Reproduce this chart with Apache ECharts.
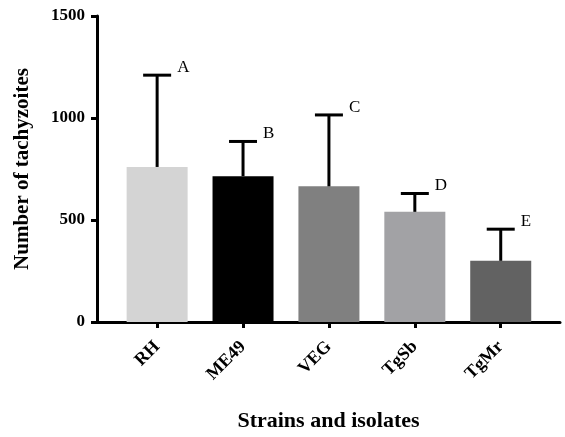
<!DOCTYPE html>
<html>
<head>
<meta charset="utf-8">
<script src="https://cdn.jsdelivr.net/npm/echarts@6/dist/echarts.min.js"></script>
<style>html,body{margin:0;padding:0;background:#fff}#c{width:565px;height:437px}</style>
</head>
<body>
<div id="c"></div>
<script>
const categories = ['RH', 'ME49', 'VEG', 'TgSb', 'TgMr'];
const means = [760, 715, 665, 540, 300];
const errors = [450, 170, 350, 90, 155];
const letters = ['A', 'B', 'C', 'D', 'E'];
const barColors = ['#d4d4d4', '#000000', '#808080', '#a2a2a5', '#626262'];
const yTicks = [0, 500, 1000, 1500];

const serif = '"Liberation Serif", "Times New Roman", serif';
const chart = echarts.init(document.getElementById('c'), null, {renderer: 'canvas'});

const barData = means.map((m, i) => ({value: [i, m], itemStyle: {color: barColors[i]}}));
const errData = means.map((m, i) => [i, m, m + errors[i], i]);

chart.setOption({
  backgroundColor: '#fff',
  animation: false,
  grid: {left: 97, right: 5, top: 16, bottom: 115, containLabel: false},
  xAxis: {
    type: 'value', min: -0.7, max: 4.69,
    splitLine: {show: false},
    axisLine: {show: true, onZero: false, lineStyle: {color: '#000', width: 3}},
    axisTick: {show: true, customValues: categories.map((c, i) => i), length: 6, lineStyle: {color: '#000', width: 3}},
    axisLabel: {
      customValues: categories.map((c, i) => i),
      formatter: v => categories[Math.round(v)],
      rotate: 45, margin: 22,
      fontFamily: serif, fontWeight: 'bold', fontSize: 18, color: '#000'
    },
    name: 'Strains and isolates', nameLocation: 'middle', nameGap: 88,
    nameTextStyle: {fontFamily: serif, fontWeight: 'bold', fontSize: 22, color: '#000', padding: [0, 0, 0, 0]}
  },
  yAxis: {
    type: 'value', min: yTicks[0], max: yTicks[yTicks.length - 1], interval: 500,
    splitLine: {show: false},
    axisLine: {show: true, onZero: false, lineStyle: {color: '#000', width: 3}},
    axisTick: {show: true, length: 6, lineStyle: {color: '#000', width: 3}},
    axisLabel: {margin: 12, formatter: v => String(v), fontFamily: serif, fontWeight: 'bold', fontSize: 17, color: '#000'},
    name: 'Number of tachyzoites', nameLocation: 'middle', nameGap: 64, nameRotate: 90,
    nameTextStyle: {fontFamily: serif, fontWeight: 'bold', fontSize: 21, color: '#000'}
  },
  series: [
    {
      type: 'bar', data: barData, barWidth: 61, z: 2
    },
    {
      type: 'custom', z: 3,
      data: errData,
      renderItem: function (params, api) {
        const x = api.value(0);
        const base = api.coord([x, api.value(1)]);
        const top = api.coord([x, api.value(2)]);
        const half = 14;
        return {
          type: 'group',
          children: [
            {type: 'line', shape: {x1: base[0], y1: base[1], x2: top[0], y2: top[1]}, style: {stroke: '#000', lineWidth: 3}},
            {type: 'line', shape: {x1: top[0] - half, y1: top[1], x2: top[0] + half, y2: top[1]}, style: {stroke: '#000', lineWidth: 3}},
            {type: 'text', x: top[0] + half + 6, y: top[1] + 1,
              style: {text: letters[api.value(3)], fill: '#000', font: '17px ' + serif, textAlign: 'left', textVerticalAlign: 'bottom'}}
          ]
        };
      }
    }
  ]
});
</script>
</body>
</html>
